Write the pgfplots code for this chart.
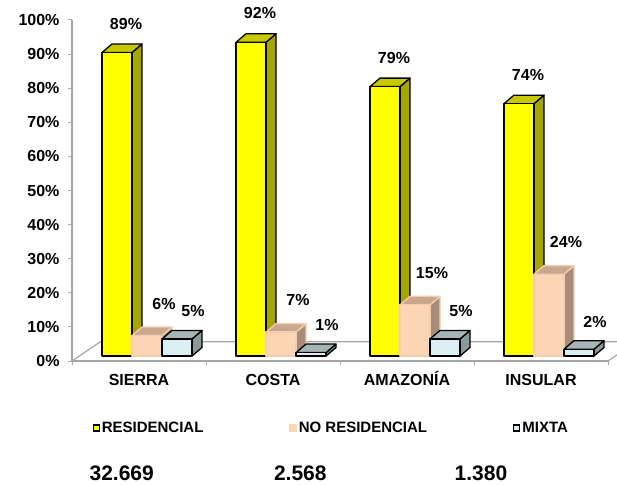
\documentclass[border=0pt]{standalone}
\usepackage{pgfplots}
\pgfplotsset{compat=1.18}
\usepackage{fontspec}
\setmainfont{Liberation Sans}
\definecolor{yfront}{HTML}{FFFF00}
\definecolor{yside}{HTML}{A6A600}
\definecolor{ytop}{HTML}{C8C800}
\definecolor{pfront}{HTML}{FCD5B5}
\definecolor{pside}{HTML}{A88B78}
\definecolor{ptop}{HTML}{C9A78F}
\definecolor{pedge}{HTML}{F5CDAE}
\definecolor{mfront}{HTML}{DAEEF3}
\definecolor{mside}{HTML}{8A9A9C}
\definecolor{mtop}{HTML}{A6B4B6}
\definecolor{axgray}{HTML}{A6A6A6}
\pgfdeclareplotmark{empty3d}{}
\newcommand\lblfont{\fontsize{15bp}{18bp}\selectfont\bfseries}
\newcommand\tickfont{\fontsize{16bp}{19bp}\selectfont\bfseries}
% #1 front #2 side #3 top #4 edge #5 xoffset(bp) #6 label dx #7 label dy
\newcommand\drawbar[7]{%
  \pgfmathsetmacro\hh{\pgfplotspointmetatransformed*0.341}%
  \pgfmathtruncatemacro\lab{round(\pgfplotspointmetatransformed/10)}%
  \pgfmathsetmacro\yb{5-\hh}%
  \pgfmathsetmacro\xl{#5-15}%
  \pgfmathsetmacro\xr{#5+15}%
  \pgfmathsetmacro\xrr{#5+25}%
  \pgfmathsetmacro\xll{#5-5}%
  \path[fill=#2,draw=#4,line width=1.3bp,line join=round]
    (\xr bp,\yb bp) -- (\xrr bp,\yb bp+8.5bp) -- (\xrr bp,13.5bp) -- (\xr bp,5bp) -- cycle;
  \path[fill=#3,draw=#4,line width=1.3bp,line join=round]
    (\xl bp,5bp) -- (\xll bp,13.5bp) -- (\xrr bp,13.5bp) -- (\xr bp,5bp) -- cycle;
  \path[fill=#1,draw=#4,line width=1.3bp,line join=round]
    (\xl bp,\yb bp) rectangle (\xr bp,5bp);
  \node[font=\tickfont, text=black, anchor=center, inner sep=0pt] at (#6bp,#7bp) {\lab\%};
}
\begin{document}
\begin{tikzpicture}
\useasboundingbox (0,0) rectangle (617bp,485bp);
\begin{axis}[
  at={(72bp,124bp)}, anchor=south west,
  x=134bp, y=3.41bp,
  xmin=-0.5, xmax=3.5, ymin=0, ymax=100,
  clip=false,
  /pgf/number format/assume math mode=true,
  axis x line*=bottom, axis y line*=left,
  axis line style={axgray, line width=1.2bp},
  tick style={axgray, line width=1bp},
  major tick length=4bp, tick align=outside,
  ytick={0,10,20,30,40,50,60,70,80,90,100},
  yticklabels={0\%,10\%,20\%,30\%,40\%,50\%,60\%,70\%,80\%,90\%,100\%},
  yticklabel style={font=\tickfont, text=black, xshift=-5bp},
  xtick={-0.5,0.5,1.5,2.5,3.5}, xticklabels={},
  extra x ticks={0,1,2,3},
  extra x tick labels={SIERRA,COSTA,AMAZONÍA,INSULAR},
  extra x tick style={major tick length=0pt},
  xticklabel style={font=\tickfont, text=black, anchor=base, yshift=-24bp},
  point meta min=0, point meta max=100,
  legend columns=3,
  legend style={at={(0.0379,-0.1965)}, anchor=west, draw=none, fill=none,
    inner sep=0pt, font=\lblfont, nodes={inner sep=0pt},
    /tikz/every odd column/.append style={column sep=2bp},
    /tikz/every even column/.append style={column sep=86bp}},
  legend image code/.code={\path[#1, line width=1.3bp] (0bp,-3bp) rectangle (6bp,3bp);},
]
\draw[axgray, line width=1.2bp] (axis cs:-0.5,0) -- ++(28.4bp,19.3bp) -- ++(560bp,0);
\draw[axgray, line width=1.2bp] (axis cs:3.5,0) -- ++(28.4bp,19.3bp);

\addplot[scatter, only marks, mark=empty3d, point meta=y, fill=yfront, draw=black,
  scatter/@pre marker code/.code={\drawbar{yfront}{yside}{ytop}{black}{-22}{-13}{34}},
  scatter/@post marker code/.code={}]
  coordinates {(0,89) (1,92) (2,79) (3,74)};
\addlegendentry{RESIDENCIAL}

\addplot[scatter, only marks, mark=empty3d, point meta=y, fill=pfront, draw=pfront,
  scatter/@pre marker code/.code={\drawbar{pfront}{pside}{ptop}{pedge}{8}{25}{37}},
  scatter/@post marker code/.code={}]
  coordinates {(0,6) (1,7) (2,15) (3,24)};
\addlegendentry{NO RESIDENCIAL}

\addplot[scatter, only marks, mark=empty3d, point meta=y, fill=mfront, draw=black,
  scatter/@pre marker code/.code={\drawbar{mfront}{mside}{mtop}{black}{38}{54}{32.5}},
  scatter/@post marker code/.code={}]
  coordinates {(0,5) (1,1) (2,5) (3,2)};
\addlegendentry{MIXTA}
\end{axis}
\node[font=\fontsize{21bp}{25bp}\selectfont\bfseries, anchor=base, inner sep=0pt] at (121.7bp,4.5bp) {32.669};
\node[font=\fontsize{21bp}{25bp}\selectfont\bfseries, anchor=base, inner sep=0pt] at (300.3bp,4.5bp) {2.568};
\node[font=\fontsize{21bp}{25bp}\selectfont\bfseries, anchor=base, inner sep=0pt] at (481bp,4.5bp) {1.380};
\end{tikzpicture}
\end{document}
